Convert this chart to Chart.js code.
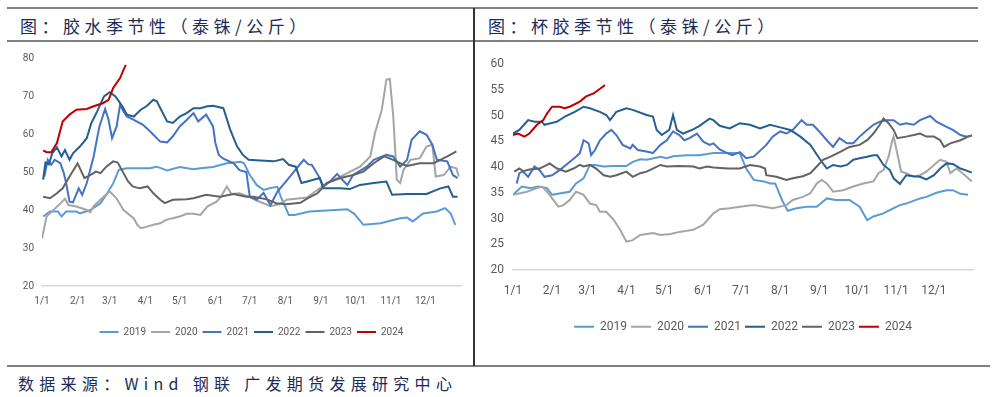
<!DOCTYPE html>
<html>
<head>
<meta charset="utf-8">
<script src="https://cdn.jsdelivr.net/npm/chart.js@4"></script>
<style>
  body { margin:0; width:1005px; height:397px; position:relative; background:#fff; overflow:hidden; }
  .hl { position:absolute; background:#808080; }
  .vl { position:absolute; background:#333; }
  .title, .src { position:absolute; white-space:nowrap; color:#1c2b5a; font-family:"Noto Sans CJK SC", sans-serif; }
  .title { font-size:17px; line-height:24px; letter-spacing:4.5px; }
  .src { font-size:16px; line-height:20px; letter-spacing:5.3px; }
  .box { position:absolute; }
</style>
</head>
<body>
<div class="hl" style="left:7px;top:7px;width:971px;height:2px"></div>
<div class="hl" style="left:7px;top:40px;width:971px;height:1.5px"></div>
<div class="hl" style="left:7px;top:365px;width:983px;height:2px"></div>
<div class="title" style="left:20px;top:14px">图：胶水季节性（泰铢/公斤）</div>
<div class="title" style="left:488px;top:14px">图：杯胶季节性（泰铢/公斤）</div>
<div class="src" style="left:18px;top:373px">数据来源：Wind 钢联 广发期货发展研究中心</div>
<div class="box" style="left:0;top:44px"><canvas id="glueChart" width="474" height="320"></canvas></div>
<div class="box" style="left:474px;top:44px"><canvas id="cupChart" width="531" height="320"></canvas></div>
<div class="vl" style="left:473px;top:8px;width:1.5px;height:358px"></div>
<script>
// years / legend
var years = ["2019", "2020", "2021", "2022", "2023", "2024"];
var yearColors = ["#5b9bd5", "#a5a5a5", "#4472c4", "#255e91", "#636363", "#c00000"];

// x axis: day of year where each month starts
var monthStartDays = [0, 31, 59, 90, 120, 151, 181, 212, 243, 273, 304, 334];
var monthLabels = ["1/1", "2/1", "3/1", "4/1", "5/1", "6/1", "7/1", "8/1", "9/1", "10/1", "11/1", "12/1"];

var glueTicks = [20, 30, 40, 50, 60, 70, 80];
var cupTicks = [20, 25, 30, 35, 40, 45, 50, 55, 60];

// 胶水 [day, price]
var glue2019 = [[1,38.3],[7,39.6],[14,39.6],[17,38.3],[21,39.6],[30,39.6],[33,39.1],[42,40],[51,41.8],[56,44],[62,47],[67,50.6],[74,51],[84,51],[94,51],[100,51.4],[109,50.4],[120,51.3],[132,50.7],[138,51],[149,51.3],[161,52.3],[173,52.7],[176,52.3],[181,49.2],[187,46.6],[193,45.3],[199,45.8],[205,46.1],[208,43.5],[215,38.7],[220,38.7],[233,39.6],[248,39.9],[266,40.2],[272,39],[280,36.1],[295,36.5],[312,37.8],[318,38],[323,37],[332,39.1],[344,39.6],[351,40.5],[356,39.1],[360,36.1]];
var glue2020 = [[0,32.5],[4,38.3],[10,40],[17,42],[20,43],[23,41.3],[30,40.9],[39,40],[42,39.4],[45,41],[52,43],[59,44.9],[65,43],[71,40],[80,37.8],[83,36.1],[86,35.2],[90,35.5],[97,36.1],[103,36.5],[108,37.4],[120,38.3],[126,39],[132,39],[138,38.7],[144,40.9],[152,42.2],[156,43.5],[161,46.2],[165,44.2],[172,44.4],[180,43.5],[187,42.5],[199,41],[207,41.5],[213,42.7],[231,43.3],[248,47.1],[260,48.8],[277,51.4],[286,54.1],[290,60.2],[296,66.4],[300,74.3],[303,74.5],[306,64.6],[308,54.1],[309,48],[312,47.1],[315,50.6],[321,53.2],[329,53.6],[335,56.7],[340,57.2],[343,48.8],[350,49.2],[356,51.4],[361,51],[363,48.8]];
var glue2021 = [[2,48.8],[5,53.2],[8,51.9],[11,53.2],[16,52.3],[19,49.7],[21,47.1],[24,42.2],[27,42],[32,45.7],[35,44],[39,47.1],[45,54.1],[50,62],[55,66.6],[58,63.7],[61,58.9],[65,62],[68,67.7],[71,65.9],[74,64.6],[80,63.7],[88,62.4],[94,60.7],[103,58],[109,57.8],[114,59.4],[120,62],[126,63.7],[132,65.5],[136,63.3],[143,65.1],[149,62],[151,57.7],[154,54.5],[158,53.5],[167,52.3],[172,50.5],[178,50],[181,43.5],[187,42.7],[193,44.5],[199,41.3],[205,44.8],[210,46.6],[216,48.8],[222,51],[228,53.2],[232,52],[235,51.9],[242,48.4],[245,46.2],[251,47.5],[257,49.5],[263,47.5],[266,46.6],[271,49.2],[283,51.4],[289,53.2],[300,54.5],[306,54.1],[312,51.4],[318,53.2],[322,58.5],[329,60.7],[335,59.8],[340,57.2],[344,53.2],[353,52.8],[358,49.2],[362,48.4]];
var glue2022 = [[1,48],[3,52.5],[6,52],[9,55],[13,56.5],[17,54.1],[20,55.8],[24,53.2],[27,54.9],[33,56.7],[39,58.9],[43,62.9],[48,65.9],[54,69.9],[59,71],[64,69.9],[70,67.3],[74,65.1],[80,64.6],[86,66.4],[91,67.3],[97,69],[100,68.6],[109,63.3],[114,62.9],[120,64.6],[126,65.5],[132,66.8],[138,66.8],[144,67.3],[149,67.4],[158,66.8],[164,61.1],[170,56.7],[175,54.5],[180,53.2],[190,53],[202,52.8],[210,53.4],[215,51.9],[221,51.4],[226,47.1],[231,47.5],[242,48.4],[245,45.7],[260,45.7],[268,45.5],[277,46.6],[289,47.1],[300,47.5],[305,44],[318,44.2],[335,44.2],[347,45.7],[354,46.2],[358,43.5],[362,43.5]];
var glue2023 = [[1,43.5],[7,43.1],[13,44.4],[18,45.7],[24,48.8],[31,52.3],[37,48.4],[42,49.2],[47,50.1],[51,49.7],[56,51.4],[62,52.8],[66,52.5],[71,49.7],[75,47.5],[79,46.2],[85,45.7],[92,46.2],[97,44.4],[103,42.7],[107,41.8],[114,42.7],[126,42.8],[132,43.1],[143,44],[155,43.5],[167,44.2],[178,43.5],[184,43.5],[196,42.8],[204,41.8],[213,41.5],[225,41.9],[232,43.2],[240,44.4],[248,47.1],[260,48.4],[271,49.2],[280,50.1],[289,52.3],[298,54.1],[306,53.2],[312,52.3],[318,51.6],[329,52.3],[341,52.3],[347,53.2],[353,54.1],[361,55.4]];
var glue2024 = [[1,55.7],[4,55.2],[8,55.2],[13,57.6],[18,63.3],[24,65.1],[30,66.4],[39,66.6],[45,67.3],[53,68.1],[58,69],[62,72.1],[68,74.7],[71,76.9],[73,78.2]];

// 杯胶 [day, price]
var cup2019 = [[0,34.6],[7,36.2],[14,35.9],[20,36.2],[27,35.9],[31,34.6],[38,34.9],[45,35.2],[50,36.8],[56,37.8],[61,40.4],[65,40.4],[72,40.1],[80,40.2],[90,40.2],[95,41],[101,41.5],[106,41.4],[117,42],[122,41.7],[127,42.1],[138,42.3],[148,42.3],[159,42.7],[170,42.7],[180,42.7],[185,39.7],[191,37.5],[199,37.2],[204,36.8],[208,36.8],[214,33.3],[218,31.5],[225,32],[233,32.3],[241,32.3],[249,33.9],[256,33.6],[267,33.6],[275,32.3],[281,29.7],[286,30.4],[294,31],[302,32],[307,32.6],[312,32.9],[323,33.9],[328,34.2],[336,35],[344,35.5],[349,35.5],[355,34.8],[361,34.6]];
var cup2020 = [[0,34.6],[11,35.2],[19,35.9],[23,36.2],[27,35.2],[32,33.6],[36,32.3],[40,32.6],[45,33.6],[50,35.2],[56,34.6],[61,32.9],[66,32.6],[69,31.3],[74,31.3],[80,29.7],[85,27.8],[90,25.5],[95,25.8],[101,26.8],[111,27.2],[117,26.8],[125,27],[132,27.4],[138,27.6],[143,27.8],[151,28.8],[159,31],[164,31.8],[172,32],[180,32.3],[191,32.6],[199,32.3],[206,32],[217,32.6],[222,33.6],[230,34.2],[236,34.9],[241,36.8],[245,37.5],[249,36.8],[254,35.2],[262,35.5],[270,36.2],[278,36.8],[286,37.2],[290,38.8],[294,39.4],[298,42],[301,45.2],[302,45.9],[306,41.4],[308,39.1],[312,38.8],[318,38.1],[323,38.4],[328,39.1],[334,40.4],[339,41.4],[344,41],[347,38.8],[352,39.7],[360,38.1],[364,37.2]];
var cup2021 = [[3,36.8],[5,38.8],[8,39.1],[12,38.1],[17,40.1],[21,39.4],[25,38.1],[31,38.4],[37,39.4],[42,40.4],[50,42],[53,42.7],[56,45.2],[60,44.6],[62,42.3],[65,43.3],[69,45.2],[74,46.5],[78,47.2],[82,46.2],[87,44.3],[93,43.6],[95,44.3],[99,43.3],[106,43],[111,42.7],[117,44.3],[122,45.2],[127,46.9],[132,46.2],[136,45.2],[140,45.6],[146,46.5],[151,44.9],[156,44.3],[159,44.6],[164,43.4],[170,42.7],[174,42.3],[180,42.9],[185,41.7],[191,42],[201,44.3],[206,45.9],[212,46.9],[217,46.5],[222,47.2],[229,49.1],[233,48.2],[238,48.2],[243,46.9],[249,45.2],[254,43.9],[259,45.6],[265,44.6],[270,44.6],[275,45.9],[281,47.2],[286,48.2],[291,48.8],[297,49.1],[302,49.1],[307,48.2],[312,48.5],[318,48.2],[323,49.1],[331,49.9],[336,48.8],[344,47.8],[349,47.2],[355,46.2],[360,45.9],[364,46.1]];
var cup2022 = [[0,46.5],[5,47.2],[12,49.1],[17,48.8],[23,48.8],[25,48.2],[35,48.8],[42,49.9],[49,50.7],[56,51.7],[61,51.4],[69,50.7],[74,50.1],[77,49.1],[82,50.7],[90,51.4],[95,51.1],[106,50.1],[111,49.8],[114,47.2],[118,46.2],[124,47.2],[127,50.1],[130,47.2],[135,46.5],[143,47.3],[148,48],[156,49.4],[159,49.1],[164,48],[172,47.5],[180,48.5],[188,48.2],[196,47.5],[204,48.2],[212,47.7],[220,47.2],[228,45.9],[236,44.3],[243,41.7],[249,39.7],[254,40.4],[260,40.1],[265,40.4],[270,41.4],[275,41.7],[281,42],[286,42.3],[289,42.3],[294,40.4],[299,39.4],[302,37.8],[307,36.7],[312,38.4],[318,38.2],[323,38.1],[328,37.6],[334,38.4],[339,39.7],[344,40.7],[349,40.6],[355,39.7],[360,39.3],[364,38.9]];
var cup2023 = [[1,39.1],[5,39.7],[8,39.2],[13,39.5],[21,39.7],[27,40.4],[29,40.7],[35,39.7],[42,39.1],[48,39.7],[53,40.4],[56,40.1],[61,40.4],[66,39.7],[72,38.4],[77,38.1],[82,38.4],[90,39.1],[95,38.1],[101,38.8],[106,39.1],[111,39.7],[117,40.4],[122,40.1],[132,40.2],[143,40.1],[148,39.7],[154,40.1],[159,39.9],[170,39.7],[180,39.7],[188,40.4],[196,40.1],[200,39.7],[201,38.4],[209,38.1],[217,37.5],[222,37.8],[230,38.2],[236,38.8],[241,40.1],[246,41.4],[252,42],[260,43],[267,43.9],[275,44.3],[281,45.2],[286,46.5],[291,48.2],[294,49.4],[298,48.5],[302,47.2],[305,45.6],[312,45.9],[318,46.2],[323,46.5],[328,45.9],[334,45.9],[339,45.2],[342,43.9],[347,44.6],[355,45.2],[361,45.9],[364,46.1]];
var cup2024 = [[0,46.2],[4,46.5],[9,45.9],[13,46.5],[19,48.2],[24,49.1],[27,50.4],[31,51.7],[37,51.7],[41,51.4],[45,51.7],[53,52.7],[58,53.7],[64,54.3],[68,55],[73,55.9]];

var glueSeries = [glue2019, glue2020, glue2021, glue2022, glue2023, glue2024];
var cupSeries = [cup2019, cup2020, cup2021, cup2022, cup2023, cup2024];

var tickFont = "Roboto, 'Liberation Sans', sans-serif";

function seasonChart(id, series, yTicks, s) {
  new Chart(id, {
    type: "line",
    data: {
      datasets: series.map(function (pts, i) {
        return {
          label: years[i],
          data: pts.map(function (p) { return { x: p[0], y: p[1] }; }),
          borderColor: yearColors[i],
          backgroundColor: yearColors[i],
          borderWidth: 2,
          pointRadius: 0,
          tension: 0,
          fill: false,
          order: series.length - i
        };
      })
    },
    options: {
      responsive: false,
      animation: false,
      layout: { padding: { left: 0, right: s.padRight, top: s.padTop, bottom: s.padBottom } },
      plugins: {
        tooltip: { enabled: false },
        legend: {
          position: "bottom",
          fullSize: false,
          labels: {
            boxWidth: s.boxWidth,
            boxHeight: 0,
            padding: s.legendPad,
            color: "#595959",
            font: { family: tickFont, size: s.legendFont },
            sort: function (a, b) { return a.datasetIndex - b.datasetIndex; }
          }
        }
      },
      scales: {
        x: {
          type: "linear",
          min: 0,
          max: 365,
          grid: { display: false, drawTicks: false },
          border: { display: true, color: "#d9d9d9", width: 1.5 },
          afterBuildTicks: function (sc) { sc.ticks = monthStartDays.map(function (v) { return { value: v }; }); },
          afterFit: function (sc) { sc.height = s.xHeight; },
          ticks: {
            autoSkip: false,
            maxRotation: 0,
            padding: s.xPad,
            color: "#595959",
            font: { family: tickFont, size: s.xFont },
            callback: function (v, i) { return monthLabels[i]; }
          }
        },
        y: {
          min: yTicks[0],
          max: yTicks[yTicks.length - 1],
          grid: { display: false, drawTicks: false },
          border: { display: false },
          afterBuildTicks: function (sc) { sc.ticks = yTicks.map(function (v) { return { value: v }; }); },
          afterFit: function (sc) { sc.width = s.yWidth; },
          ticks: {
            padding: s.yPad,
            color: "#595959",
            font: { family: tickFont, size: s.yFont }
          }
        }
      }
    }
  });
}

seasonChart("glueChart", glueSeries, glueTicks, {
  padRight: 13, padTop: 14, padBottom: 17, yWidth: 42, yPad: 8, yFont: 10,
  xHeight: 36, xPad: 9.5, xFont: 10, boxWidth: 19, legendPad: 5, legendFont: 10
});
seasonChart("cupChart", cupSeries, cupTicks, {
  padRight: 32, padTop: 20, padBottom: 21.3, yWidth: 39, yPad: 9, yFont: 12,
  xHeight: 46.7, xPad: 14, xFont: 12, boxWidth: 20, legendPad: 4, legendFont: 12
});
</script>
</body>
</html>
